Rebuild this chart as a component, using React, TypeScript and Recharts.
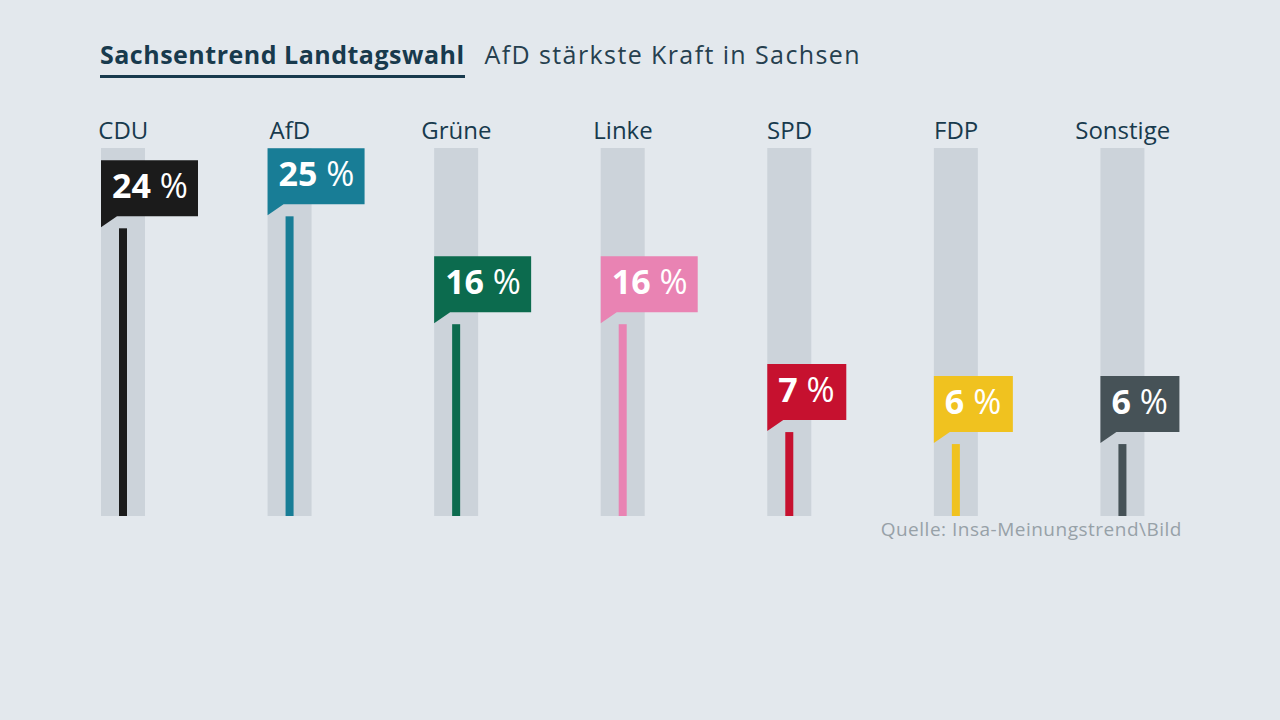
import React from "react";
import { BarChart, Bar, XAxis, YAxis } from "recharts";

const parties = ["CDU", "AfD", "Grüne", "Linke", "SPD", "FDP", "Sonstige"];
const shares = [24, 25, 16, 16, 7, 6, 6];
const barColors = ["#1b1b1b", "#187d96", "#0c6b4e", "#e983b3", "#c6112f", "#f0c21f", "#465257"];

const chartData = parties.map((name, i) => ({ name, value: shares[i], color: barColors[i] }));

const FONT = "'Open Sans', sans-serif";
const NAVY = "#183a4d";

interface FlagBarProps {
  x: number;
  y: number;
  width: number;
  height: number;
  payload: { name: string; value: number; color: string };
}

// thin coloured bar inside the grey column, plus the speech-bubble flag on top
const FlagBar = ({ x, y, width, height, payload }: FlagBarProps) => {
  const cx = x + width / 2;
  const digits = String(payload.value).length;
  const boxW = 61 + 18 * digits;
  const boxH = 56;
  const by1 = y - 12;
  const by0 = by1 - boxH;
  const flag = `M${x},${by0} H${x + boxW} V${by1} H${x + 16} L${x},${by1 + 11} Z`;
  return (
    <g>
      <rect x={cx - 4} y={y} width={8} height={height} fill={payload.color} />
      <path d={flag} fill={payload.color} />
      <text x={x + 11} y={by1 - 18} fill="#ffffff" fontFamily={FONT} fontSize={34}>
        <tspan fontWeight={700}>{payload.value}</tspan>
        <tspan fontWeight={400}> %</tspan>
      </text>
    </g>
  );
};

const App: React.FC = () => {
  return (
    <div style={{ position: "fixed", inset: 0, background: "#e3e8ed", fontFamily: FONT }}>
      <div style={{ position: "absolute", left: 100, top: 39, display: "flex", alignItems: "flex-start" }}>
        <div
          style={{
            fontSize: 25,
            lineHeight: "31px",
            fontWeight: 700,
            color: NAVY,
            paddingBottom: 5,
            borderBottom: `3px solid ${NAVY}`,
            letterSpacing: 0.5,
          }}
        >
          Sachsentrend Landtagswahl
        </div>
        <div style={{ fontSize: 25, lineHeight: "31px", color: "#26404f", marginLeft: 20, letterSpacing: 1.4 }}>
          AfD stärkste Kraft in Sachsen
        </div>
      </div>

      <div style={{ position: "absolute", left: 0, top: 0 }}>
        <BarChart
          width={1280}
          height={720}
          data={chartData}
          margin={{ top: 108, right: 74, bottom: 204, left: 40 }}
        >
          <XAxis
            dataKey="name"
            orientation="top"
            height={40}
            axisLine={false}
            tickLine={false}
            interval={0}
            tick={{ fill: NAVY, fontSize: 24, fontFamily: FONT, dy: -1 }}
          />
          <YAxis hide domain={[0, 30.7]} />
          <Bar
            dataKey="value"
            barSize={44}
            background={{ fill: "#ccd3da" }}
            shape={(props: any) => <FlagBar {...props} />}
            isAnimationActive={false}
          />
        </BarChart>
      </div>

      <div
        style={{
          position: "absolute",
          right: 98,
          top: 519,
          fontSize: 19,
          lineHeight: "21px",
          color: "#97a1a8",
          letterSpacing: 0.5,
        }}
      >
        Quelle: Insa-Meinungstrend\Bild
      </div>
    </div>
  );
};

export default App;
